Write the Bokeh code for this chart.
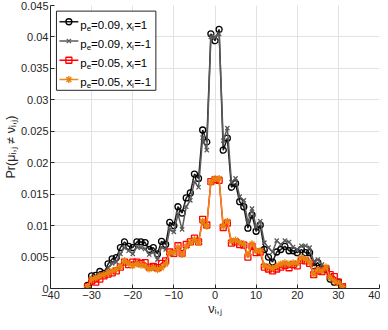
from bokeh.plotting import figure
from bokeh.models import Range1d, FixedTicker
from bokeh.core.properties import value
from bokeh.embed import file_html
from bokeh.resources import INLINE

# ---------------- data ----------------
nu = list(range(-31, 32))

pe09_x1 = [0.0005, 0.0020, 0.0021, 0.0027, 0.0024, 0.0039, 0.0047, 0.0049, 0.0065, 0.0074,
           0.0067, 0.0065, 0.0074, 0.0074, 0.0073, 0.0062, 0.0065, 0.0055, 0.0075, 0.0070,
           0.0105, 0.0100, 0.0130, 0.0120, 0.0144, 0.0152, 0.0182, 0.0175, 0.0252, 0.0233,
           0.0405, 0.0394, 0.0412,
           0.0220, 0.0239, 0.0161, 0.0167, 0.0138, 0.0130, 0.0096, 0.0117, 0.0091, 0.0101,
           0.0062, 0.0050, 0.0042, 0.0058, 0.0062, 0.0067, 0.0060, 0.0060, 0.0057, 0.0062,
           0.0057, 0.0057, 0.0036, 0.0041, 0.0031, 0.0030, 0.0015, 0.0010, 0.0010, 0.0003]

pe09_xm1 = [0.0003, 0.0015, 0.0018, 0.0022, 0.0020, 0.0033, 0.0040, 0.0042, 0.0055, 0.0065,
            0.0060, 0.0055, 0.0066, 0.0065, 0.0063, 0.0054, 0.0058, 0.0046, 0.0066, 0.0062,
            0.0094, 0.0090, 0.0118, 0.0094, 0.0130, 0.0140, 0.0170, 0.0161, 0.0240, 0.0220,
            0.0400, 0.0400, 0.0405,
            0.0235, 0.0255, 0.0169, 0.0175, 0.0146, 0.0140, 0.0105, 0.0127, 0.0098, 0.0107,
            0.0073, 0.0065, 0.0058, 0.0076, 0.0070, 0.0076, 0.0074, 0.0066, 0.0062, 0.0068,
            0.0068, 0.0065, 0.0043, 0.0046, 0.0038, 0.0034, 0.0020, 0.0014, 0.0012, 0.0003]

pe05_x1 = [0.0003, 0.0012, 0.0010, 0.0015, 0.0020, 0.0023, 0.0025, 0.0028, 0.0034, 0.0042,
           0.0038, 0.0042, 0.0042, 0.0040, 0.0041, 0.0034, 0.0035, 0.0033, 0.0040, 0.0044,
           0.0058, 0.0056, 0.0068, 0.0056, 0.0070, 0.0074, 0.0080, 0.0074, 0.0110, 0.0101,
           0.0170, 0.0173, 0.0172,
           0.0097, 0.0104, 0.0072, 0.0074, 0.0070, 0.0069, 0.0050, 0.0067, 0.0057, 0.0058,
           0.0034, 0.0031, 0.0028, 0.0031, 0.0034, 0.0037, 0.0033, 0.0038, 0.0036, 0.0045,
           0.0044, 0.0040, 0.0022, 0.0028, 0.0027, 0.0031, 0.0022, 0.0019, 0.0010, 0.0003]

pe05_xm1 = [0.0003, 0.0015, 0.0017, 0.0020, 0.0022, 0.0025, 0.0028, 0.0030, 0.0035, 0.0044,
            0.0040, 0.0036, 0.0039, 0.0037, 0.0036, 0.0031, 0.0033, 0.0030, 0.0033, 0.0039,
            0.0057, 0.0057, 0.0065, 0.0054, 0.0067, 0.0073, 0.0078, 0.0073, 0.0107, 0.0099,
            0.0169, 0.0175, 0.0175,
            0.0099, 0.0107, 0.0075, 0.0077, 0.0073, 0.0071, 0.0054, 0.0071, 0.0060, 0.0060,
            0.0036, 0.0034, 0.0032, 0.0036, 0.0039, 0.0041, 0.0039, 0.0041, 0.0041, 0.0049,
            0.0047, 0.0042, 0.0023, 0.0030, 0.0028, 0.0034, 0.0017, 0.0012, 0.0008, 0.0003]

x_ticks = [-40, -30, -20, -10, 0, 10, 20, 30, 40]
y_ticks = [0, 0.005, 0.01, 0.015, 0.02, 0.025, 0.03, 0.035, 0.04, 0.045]
y_tick_labels = ["0", "0.005", "0.01", "0.015", "0.02", "0.025", "0.03", "0.035", "0.04", "0.045"]

legend_main = ["=0.09, x", "=0.09, x", "=0.05, x", "=0.05, x"]
legend_tail = ["=1", "=-1", "=1", "=-1"]

# ---------------- styles ----------------
FONT = "Liberation Sans"
TXT = "#262626"
series = [
    (pe09_x1, "#1a1a1a", "circle", "#000000", None),
    (pe09_xm1, "#5a5a5a", "x", "#5a5a5a", None),
    (pe05_x1, "#ff0000", "square", "#ff0000", None),
    (pe05_xm1, "#ee8a1c", "asterisk", "#e8820f", "#e8820f"),
]

p = figure(width=380, height=322, x_range=Range1d(-40, 40), y_range=Range1d(0, 0.045),
           output_backend="svg", toolbar_location=None,
           min_border_left=50, min_border_right=1, min_border_top=5, min_border_bottom=34)
p.outline_line_color = None
p.background_fill_color = "white"

for ax in (p.xaxis, p.yaxis):
    ax.axis_line_color = TXT
    ax.axis_line_width = 1
    ax.major_tick_line_color = TXT
    ax.major_tick_in = 4
    ax.major_tick_out = 0
    ax.minor_tick_line_color = None
    ax.major_label_text_font = FONT
    ax.major_label_text_font_size = "11px"
    ax.major_label_text_color = TXT
    ax.major_label_standoff = 3
    ax.axis_label_text_font = FONT
    ax.axis_label_text_font_style = "normal"
    ax.axis_label_text_color = TXT

p.xaxis.major_label_standoff = 2
p.xaxis.axis_label_standoff = 0
p.yaxis.major_label_standoff = 2
p.yaxis.axis_label_standoff = 0
p.xaxis.axis_label_text_font_size = "12.5px"
p.yaxis.axis_label_text_font_size = "12.5px"

p.xaxis.ticker = FixedTicker(ticks=x_ticks)
p.yaxis.ticker = FixedTicker(ticks=y_ticks)
p.yaxis.major_label_overrides = {t: l for t, l in zip(y_ticks, y_tick_labels)}
p.xaxis.axis_label = "\u03bd\u1d62,\u2c7c"
p.yaxis.axis_label = "Pr(\u03bc\u1d62,\u2c7c \u2260 \u03bd\u1d62,\u2c7c)"

p.xgrid.grid_line_color = "#e2e2e2"
p.ygrid.grid_line_color = "#e2e2e2"
p.xgrid.grid_line_width = 1
p.ygrid.grid_line_width = 1

for vals, lc, mk, mc, fc in series:
    p.line(nu, vals, line_color=lc, line_width=1.5)
    p.scatter(nu, vals, marker=mk, size=6 if mk != "asterisk" else 7,
              line_color=mc, fill_color=fc if fc else None, line_width=1.3)

# ---------------- legend (positions in reference pixels -> data) ----------------
def X(px):
    return -40 + (px - 50) / 331 * 80

def Y(py):
    return (293 - py) / 287 * 0.045

p.quad(left=[X(56)], right=[X(156)], top=[Y(11.7)], bottom=[Y(92)],
       fill_color="white", line_color=TXT, line_width=1)

rows = [22.5, 42.0, 61.5, 81.0]
fs = 11.5
sub = 8.0
for i, (vals, lc, mk, mc, fc) in enumerate(series):
    ry = rows[i]
    p.line([X(59), X(78)], [Y(ry), Y(ry)], line_color=lc, line_width=1.5)
    p.scatter([X(68.5)], [Y(ry)], marker=mk, size=6 if mk != "asterisk" else 7,
              line_color=mc, fill_color=fc if fc else None, line_width=1.3)
    base = ry + 3.0
    xs = 80.0
    w_p = 0.556 * fs
    w_e = 0.556 * sub
    w_main = (0.584 + 0.556 + 0.278 + 0.556 + 0.556 + 0.278 + 0.278 + 0.5) * fs
    w_i = 0.222 * sub
    pieces = [
        ("p", xs, base, fs),
        ("e", xs + w_p, base + 3.5, sub),
        (legend_main[i], xs + w_p + w_e, base, fs),
        ("i", xs + w_p + w_e + w_main, base + 3.5, sub),
        (legend_tail[i], xs + w_p + w_e + w_main + w_i + 0.3, base, fs),
    ]
    for txt, px, py, size in pieces:
        p.text([X(px)], [Y(py)], text=[txt], text_font=value(FONT),
               text_font_size=value(f"{size}px"), text_color="#000000",
               text_align="left", text_baseline="alphabetic")

open("out.html", "w").write(file_html(p, INLINE))
